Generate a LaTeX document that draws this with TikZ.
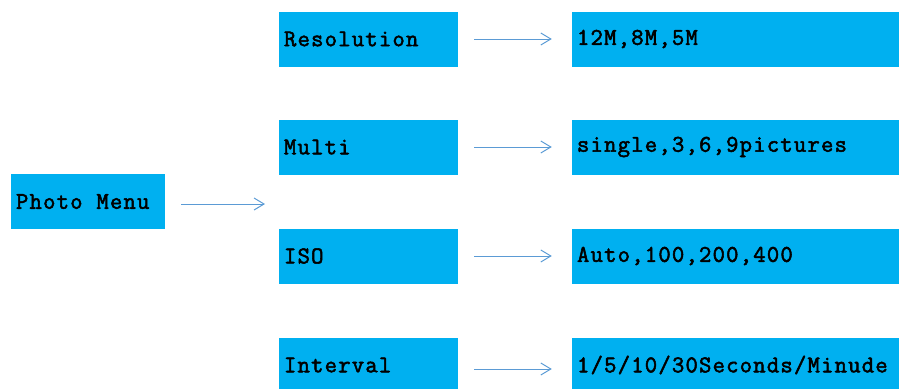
\documentclass[tikz,border=0pt]{standalone}
\usepackage{fontspec}
\newfontfamily\menufont[LetterSpace=5,FakeBold=2.2]{Latin Modern Mono}
\usetikzlibrary{arrows.meta}
\definecolor{boxblue}{HTML}{00B0F0}
\definecolor{linkblue}{HTML}{5B9BD5}

\begin{document}
\begin{tikzpicture}[x=1pt,y=-1pt,
        item/.style={fill=boxblue,inner xsep=5pt,inner ysep=0pt,minimum height=55pt,align=left,font=\menufont\fontsize{24}{24}\selectfont},
        key/.style={item,text width=169pt},
        val/.style={item,text width=330pt},
        link/.style={draw=linkblue,line width=1pt,-{Straight Barb[length=10pt,width=12pt]},shorten <=16pt,shorten >=20pt}]
        \clip (0,0) rectangle (899,388);
        \node [item,text width=144pt] (pm) at (88,201.5){Photo\hspace{13.8pt}Menu};
        \node [key] (res) at (368.5,39){Resolution};
        \node [key] (mul) at (368.5,147){Multi};
        \node [key] (iso) at (368.5,256){ISO};
        \node [key] (int) at (368.5,365){Interval};
        \node [val] (resv) at (742,39){12M,8M,5M};
        \node [val] (mulv) at (742,147){single,3,6,9pictures};
        \node [val] (isov) at (742,256){Auto,100,200,400};
        \node [val] (intv) at (742,365){1/5/10/30Seconds/Minude};
        \coordinate (pmend) at (265,204);
        \draw [link,shorten >=0pt] (pm.east |- pmend) -- (pmend);
        \draw [link] (res) -- (resv);
        \draw [link] (mul) -- (mulv);
        \draw [link] (iso) -- (isov);
        \draw [link] (int.east |- 0,369) -- (intv.west |- 0,369);
      \end{tikzpicture}
\end{document}
